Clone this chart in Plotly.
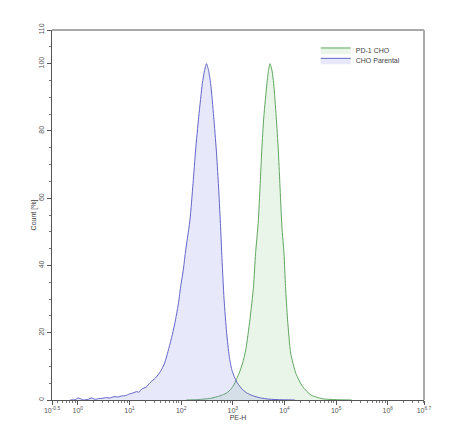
import plotly.graph_objects as go

# CHO Parental (blue) : log10(PE-H) and Count [%]
parental_log = [-0.15, -0.05, 0.0, 0.05, 0.1, 0.2, 0.27, 0.33, 0.4, 0.47, 0.55, 0.62, 0.7, 0.78, 0.85,
                0.92, 1.0, 1.07, 1.14, 1.18, 1.24, 1.32, 1.4, 1.5, 1.6, 1.68, 1.76, 1.83, 1.89, 1.95,
                1.99, 2.04, 2.08, 2.12, 2.17, 2.23, 2.28, 2.34, 2.41, 2.45, 2.49, 2.53, 2.57, 2.63,
                2.68, 2.72, 2.76, 2.79, 2.83, 2.88, 2.93, 2.98, 3.04, 3.09, 3.18, 3.28, 3.4, 3.54,
                3.7, 3.9, 4.2]
parental_cnt = [0.0, 0.1, 0.6, 0.4, 0.0, 0.2, 0.6, 0.2, 0.4, 0.5, 0.7, 0.6, 1.0, 0.9, 1.2,
                1.3, 1.8, 2.1, 2.5, 2.3, 3.3, 3.8, 5.2, 6.5, 8.5, 11.0, 15.3, 19.5, 23.8, 29.0,
                33.7, 38.5, 43.6, 48.0, 53.5, 64.4, 74.3, 84.2, 94.1, 97.8, 100.0, 98.0, 94.1, 84.2,
                74.3, 64.4, 52.5, 42.0, 30.0, 20.0, 13.0, 9.0, 6.5, 5.0, 3.2, 2.0, 1.2, 0.6,
                0.25, 0.1, 0.0]

# PD-1 CHO (green)
pd1_log = [2.1, 2.3, 2.45, 2.57, 2.7, 2.8, 2.89, 2.96, 3.02, 3.12, 3.19, 3.25, 3.33, 3.4, 3.44,
           3.49, 3.53, 3.56, 3.6, 3.66, 3.69, 3.72, 3.76, 3.79, 3.84, 3.88, 3.91, 3.95, 3.99,
           4.02, 4.06, 4.12, 4.22, 4.35, 4.51, 4.65, 4.77, 5.0, 5.3]
pd1_cnt = [0.0, 0.1, 0.3, 0.5, 1.0, 1.5, 2.2, 3.2, 4.5, 7.9, 11.0, 14.9, 23.8, 33.7, 43.6,
           52.5, 64.4, 74.3, 84.2, 94.1, 98.0, 100.0, 97.8, 94.1, 84.2, 74.3, 64.4, 51.5, 43.6,
           33.7, 23.8, 13.9, 7.9, 4.0, 1.5, 0.7, 0.3, 0.1, 0.0]

series_names = ["PD-1 CHO", "CHO Parental"]

x_tick_exps = [-0.5, 0, 1, 2, 3, 4, 5, 6, 6.7]
x_tick_text = ["10<sup>-0.5</sup>", "10<sup>0</sup>", "10<sup>1</sup>", "10<sup>2</sup>",
               "10<sup>3</sup>", "10<sup>4</sup>", "10<sup>5</sup>", "10<sup>6</sup>", "10<sup>6.7</sup>"]
y_tick_vals = [0, 20, 40, 60, 80, 100, 110]

fig = go.Figure()
fig.add_trace(go.Scatter(
    x=[10 ** v for v in pd1_log], y=pd1_cnt, name=series_names[0], mode="lines",
    line=dict(color="#5fa65f", width=1, shape="spline", smoothing=0.6),
    fill="tozeroy", fillcolor="rgba(130,200,130,0.18)", legend="legend"))
fig.add_trace(go.Scatter(
    x=[10 ** v for v in parental_log], y=parental_cnt, name=series_names[1], mode="lines",
    line=dict(color="#6464c8", width=1, shape="spline", smoothing=0.6),
    fill="tozeroy", fillcolor="rgba(130,130,235,0.18)", legend="legend2"))

minor_x = [m * 10 ** d for d in range(-1, 7) for m in range(2, 10) if 10 ** -0.5 <= m * 10 ** d <= 10 ** 6.7]

axis_font = dict(family="Liberation Sans, Arial, sans-serif", size=7, color="#555555")
leg_font = dict(family="Liberation Sans, Arial, sans-serif", size=7, color="#444444")
fig.update_layout(
    width=467, height=438,
    margin=dict(l=52, r=43, t=30, b=38),
    plot_bgcolor="white", paper_bgcolor="white",
    font=axis_font,
    showlegend=True,
    legend=dict(x=0.709, y=0.946, xanchor="left", yanchor="middle", bgcolor="rgba(0,0,0,0)",
                font=leg_font, itemwidth=30),
    legend2=dict(x=0.709, y=0.918, xanchor="left", yanchor="middle", bgcolor="rgba(0,0,0,0)",
                 font=leg_font, itemwidth=30),
    xaxis=dict(type="log", range=[-0.5, 6.7], showgrid=False, zeroline=False,
               tickmode="array", tickvals=[10 ** e for e in x_tick_exps], ticktext=x_tick_text,
               ticks="outside", ticklen=4, tickcolor="#555555", showline=True, linecolor="#555555",
               linewidth=1, tickfont=axis_font,
               minor=dict(tickmode="array", tickvals=minor_x, ticks="outside", ticklen=2, tickcolor="#777777"),
               title=dict(text="PE-H", font=dict(size=7, color="#444444"), standoff=0)),
    yaxis=dict(range=[0, 110], showgrid=False, zeroline=False,
               tickmode="array", tickvals=y_tick_vals, tickangle=-90,
               ticks="outside", ticklen=4, tickcolor="#555555", showline=True, linecolor="#555555",
               linewidth=1, tickfont=axis_font,
               minor=dict(tickmode="linear", tick0=0, dtick=5, ticks="outside", ticklen=2, tickcolor="#777777"),
               title=dict(text="Count [%]", font=dict(size=7, color="#444444"), standoff=0)),
)
# frame: top (dark) and right (light grey)
fig.add_shape(type="line", xref="paper", yref="paper", x0=0, x1=1, y0=1, y1=1,
              line=dict(color="#555555", width=1))
fig.add_shape(type="line", xref="paper", yref="paper", x0=1, x1=1, y0=0, y1=1,
              line=dict(color="#aaaaaa", width=2))

fig.write_html("out.html")
